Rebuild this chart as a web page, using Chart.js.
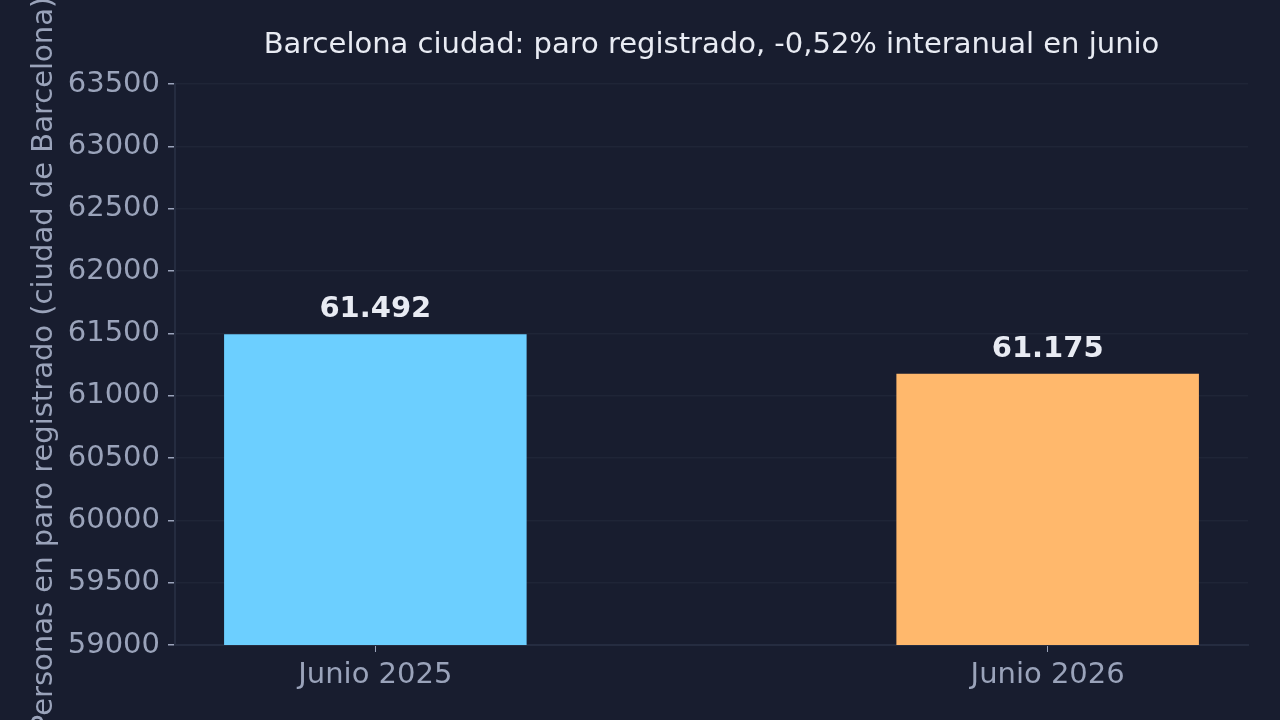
<!DOCTYPE html>
<html>
<head>
<meta charset="utf-8">
<script src="https://cdn.jsdelivr.net/npm/chart.js@4/dist/chart.umd.min.js"></script>
<style>
  html, body { margin: 0; padding: 0; background: #181d2f; }
  #wrap { width: 1280px; height: 720px; }
</style>
</head>
<body>
<div id="wrap"><canvas id="paroChart" width="1280" height="720"></canvas></div>
<script>
// Data
const categories = ['Junio 2025', 'Junio 2026'];
const positions = [0, 1];
const paroValues = [61492, 61175];
const valueLabels = ['61.492', '61.175'];
const barColors = ['#6ccfff', '#ffb86c'];
const yMin = 59000;
const yMax = 63500;
const yStep = 500;

const titleText = 'Barcelona ciudad: paro registrado, -0,52% interanual en junio';
const yTitleText = 'Personas en paro registrado (ciudad de Barcelona)';

const FONT = "'DejaVu Sans', sans-serif";
const tickGrey = '#9aa3ba';

// Custom drawing: title over chart area, y title, value labels
const overlayPlugin = {
    id: 'overlay',
    afterDraw(chart) {
        const ctx = chart.ctx;
        const area = chart.chartArea;
        ctx.save();

        // Title
        ctx.fillStyle = '#e8ebf3';
        ctx.font = '29px ' + FONT;
        ctx.textAlign = 'center';
        ctx.textBaseline = 'middle';
        ctx.fillText(titleText, (area.left + area.right) / 2, 45);

        // Y axis title
        ctx.save();
        ctx.translate(44, (area.top + area.bottom) / 2);
        ctx.rotate(-Math.PI / 2);
        ctx.fillStyle = tickGrey;
        ctx.font = '29px ' + FONT;
        ctx.fillText(yTitleText, 0, 0);
        ctx.restore();

        // Value labels above bars
        const meta = chart.getDatasetMeta(0);
        ctx.fillStyle = '#e8ebf3';
        ctx.font = 'bold 29px ' + FONT;
        ctx.textBaseline = 'bottom';
        meta.data.forEach((bar, i) => {
            ctx.fillText(valueLabels[i], bar.x, bar.y - 10);
        });
        ctx.restore();
    }
};

const ctx = document.getElementById('paroChart');

new Chart(ctx, {
    type: 'bar',
    data: {
        datasets: [{
            data: positions.map((p, i) => ({ x: p, y: paroValues[i] })),
            backgroundColor: barColors,
            borderWidth: 0,
            barPercentage: 0.45,
            categoryPercentage: 1.0
        }]
    },
    options: {
        responsive: false,
        animation: false,
        devicePixelRatio: 1,
        layout: {
            padding: { top: 84, right: 32, bottom: 0, left: 0 }
        },
        plugins: {
            legend: { display: false },
            tooltip: { enabled: false },
            title: { display: false }
        },
        scales: {
            x: {
                type: 'linear',
                min: -0.298,
                max: 1.298,
                offset: false,
                afterBuildTicks: (scale) => {
                    scale.ticks = positions.map(v => ({ value: v }));
                },
                afterFit: (scale) => { scale.height = 75; },
                ticks: {
                    color: tickGrey,
                    font: { family: FONT, size: 29 },
                    padding: 6,
                    autoSkip: false,
                    maxRotation: 0,
                    callback: (v) => categories[positions.indexOf(v)] || ''
                },
                grid: {
                    offset: false,
                    drawOnChartArea: false,
                    drawTicks: true,
                    tickLength: 7,
                    tickColor: tickGrey
                },
                border: { color: '#252c40', width: 2 }
            },
            y: {
                min: yMin,
                max: yMax,
                afterBuildTicks: (scale) => {
                    const t = [];
                    for (let v = yMin; v <= yMax; v += yStep) t.push({ value: v });
                    scale.ticks = t;
                },
                afterFit: (scale) => { scale.width = 175; },
                ticks: {
                    color: tickGrey,
                    font: { family: FONT, size: 29 },
                    padding: 8,
                    callback: (v) => String(v)
                },
                grid: {
                    color: '#1f2537',
                    lineWidth: 1.5,
                    tickLength: 7,
                    tickColor: tickGrey
                },
                border: { color: '#252c40', width: 2 }
            }
        }
    },
    plugins: [overlayPlugin]
});
</script>
</body>
</html>
